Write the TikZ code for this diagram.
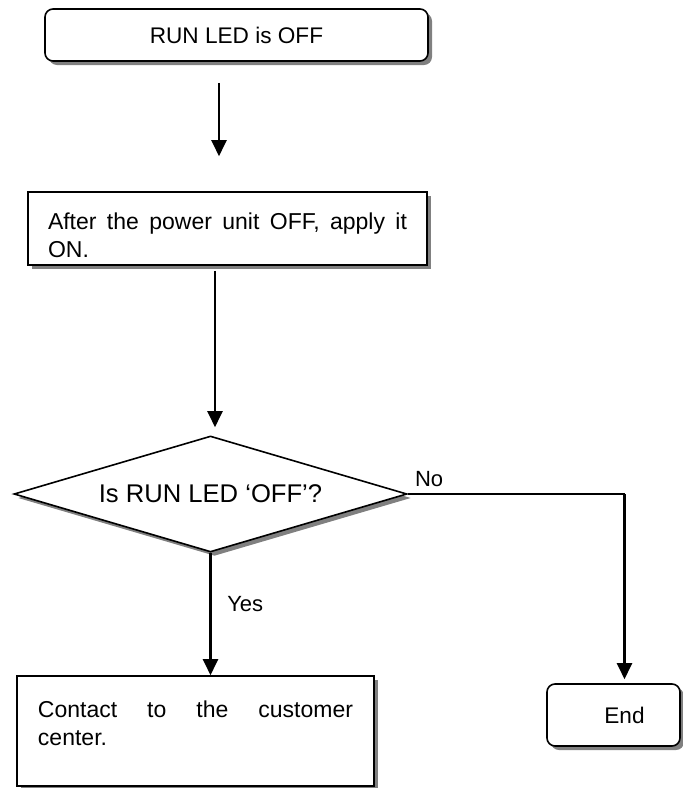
\documentclass[tikz,border=0pt]{standalone}
\usepackage{fontspec}
\setmainfont{Liberation Sans}
\usetikzlibrary{shapes.geometric,shadows,arrows.meta,calc}

\tikzset{
	boxshadow/.style={drop shadow={shadow xshift=2pt,shadow yshift=-2pt,fill=gray,opacity=1}},
	terminal/.style={draw, rounded corners=4pt, fill=white, boxshadow, line width=0.8pt,
		font=\fontsize{11.3pt}{13pt}\selectfont},
	process/.style={draw, fill=white, boxshadow, line width=0.8pt, inner xsep=10pt, inner ysep=2pt, align=left,
		font=\fontsize{11.5pt}{14pt}\selectfont},
	decision/.style={diamond, aspect=3.39, draw, fill=white, boxshadow, line width=0.8pt, inner sep=0pt,
		minimum width=196.5pt, minimum height=58pt, font=\fontsize{12.8pt}{15pt}\selectfont},
	flow/.style={draw, line width=1.1pt, ->},
	branch/.style={draw, line width=0.6pt},
	lbl/.style={font=\fontsize{11pt}{13pt}\selectfont}
}

\begin{document}
\begin{tikzpicture}[x=0.5pt, y=-0.5pt, >={Triangle[width=7.5pt,length=8pt]}]
	\useasboundingbox (0,0) rectangle (682,788);

	% Boites
	\node[terminal, minimum width=191.5pt, minimum height=26pt] (start) at (236.5,35) {RUN LED is OFF};
	\node[process, minimum width=199.5pt, minimum height=36.5pt, text width=179.5pt, text height=15pt] (reset) at (227.5,228.5)
		{After\hfill the\hfill power\hfill unit\hfill OFF,\hfill apply\hfill it\\ON.};
	\node[decision] (check) at (210.5,494) {Is RUN LED ‘OFF’?};
	\node[process, minimum width=178.5pt, minimum height=55pt, text width=157.5pt, text depth=22pt] (contact) at (195.5,731)
		{Contact\hfill to\hfill the\hfill customer\\center.};
	\node[terminal, minimum width=66.5pt, minimum height=31pt] (finish) at (613.5,715) {\hspace*{11pt}End};

	% Fleches
	\draw[flow] ([shift={(-8.75pt,-10.5pt)}]start.south) -- ([shift={(-4.25pt,17.5pt)}]reset.north);
	\draw[flow] ([shift={(-6.25pt,-2.5pt)}]reset.south) -- ([shift={(2.25pt,4pt)}]check.north);
	\draw[flow] (check.south) -- node[lbl, pos=0.42, right, xshift=4.5pt] {Yes} (check.south |- contact.north);

	% Branche No
	\coordinate (endin) at ([xshift=5.5pt]finish.north);
	\coordinate (turn) at (check.east -| endin);
	\draw[branch] (check.east) node[lbl, above right] {No} -- (turn);
	\draw[flow, shorten >=2pt] (turn) -- (endin);
\end{tikzpicture}
\end{document}
